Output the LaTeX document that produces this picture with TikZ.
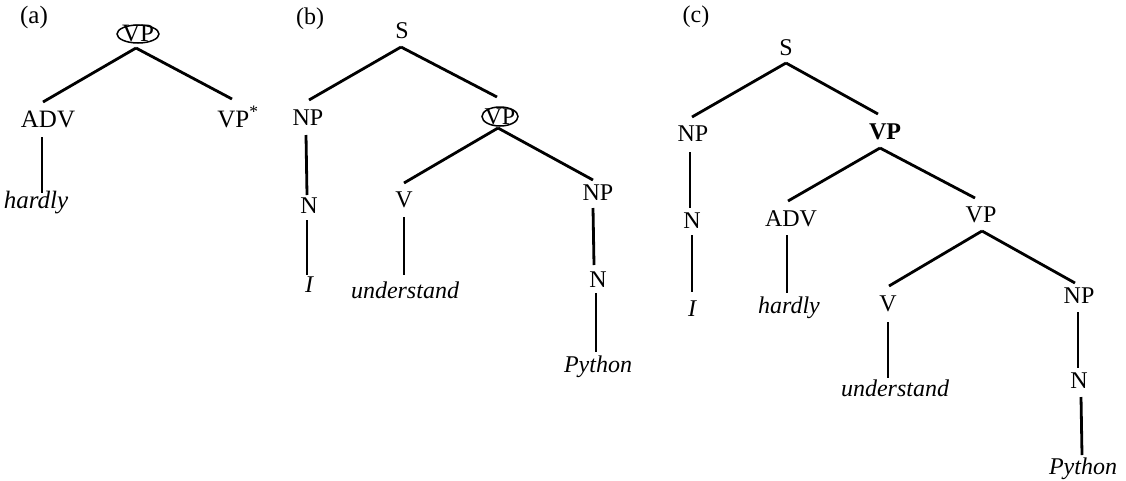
\documentclass[tikz,border=0pt]{standalone}
\usepackage{fontspec}
\setmainfont{Liberation Serif}
\usetikzlibrary{calc,shapes.geometric}
\newcommand\tlink[4]{\draw[edge] ($(#1)+(#2)$) -- ($(#3)+(#4)$);}
\begin{document}
\begin{tikzpicture}[x=1pt,y=-1pt,
  tx/.style={anchor=base,inner sep=0pt,font=\fontsize{24}{24}\selectfont},
  txa/.style={anchor=base,inner sep=0pt,font=\fontsize{25}{25}\selectfont},
  wd/.style={anchor=base,inner sep=0pt,font=\fontsize{24}{24}\selectfont\itshape},
  wda/.style={anchor=base,inner sep=0pt,font=\fontsize{25}{25}\selectfont\itshape},
  circ/.style={draw,ellipse,line width=1.5pt,inner sep=0pt},
  edge/.style={line width=2.8pt}]
\fill[white] (0,0) rectangle (1126,480);
\useasboundingbox (0,0) rectangle (1126,480);
% ---------- (a)
\node[txa] (la) at (34,23) {(a)};
\node[circ,minimum width=42pt,minimum height=18pt] (aVPe) at (138,34) {};
\node[txa] (aVP) at (138,41) {VP};
\node[txa] (aADV) at (48,127) {ADV};
\node[txa] (aVPs) at (238,127) {VP\textsuperscript{*}};
\node[wda] (ahardly) at (36,208) {hardly};
\tlink{aVPe.center}{-2,14}{aADV.base}{-5,-25}
\tlink{aVPe.center}{-2,14}{aVPs.base}{-6,-28}
\tlink{aADV.base}{-6,10}{ahardly.base}{6,-15}
% ---------- (b)
\node[tx] (lb) at (310,24) {(b)};
\node[tx] (bS) at (402,38) {S};
\node[tx] (bNP) at (308,125) {NP};
\node[circ,minimum width=36pt,minimum height=19pt] (bVPe) at (500,116.5) {};
\node[tx] (bVP) at (500,124) {VP};
\node[tx] (bV) at (404,207) {V};
\node[tx] (bNP2) at (598,200) {NP};
\node[tx] (bN) at (309,213) {N};
\node[wd] (bI) at (309,292) {I};
\node[wd] (bund) at (405,298) {understand};
\node[tx] (bN2) at (598,287) {N};
\node[wd] (bPy) at (598,372) {Python};
\tlink{bS.base}{-1,9}{bNP.base}{1,-25}
\tlink{bS.base}{-1,9}{bVPe.center}{-3,-19.5}
\tlink{bVPe.center}{-2,11.5}{bV.base}{0,-24}
\tlink{bVPe.center}{-2,11.5}{bNP2.base}{-5,-20}
\tlink{bNP.base}{-2,10}{bN.base}{-2,-18}
\tlink{bN.base}{-2,7}{bI.base}{-2,-17}
\tlink{bV.base}{0,10}{bund.base}{-1,-23}
\tlink{bNP2.base}{-5,8}{bN2.base}{-4,-22}
\tlink{bN2.base}{-2,6}{bPy.base}{-2,-20}
% ---------- (c)
\node[tx] (lc) at (696,22) {(c)};
\node[tx] (cS) at (786,55) {S};
\node[tx] (cNP) at (693,141) {NP};
\node[tx,font=\fontsize{24}{24}\selectfont\bfseries] (cVP) at (885,139) {VP};
\node[tx] (cADV) at (791,226) {ADV};
\node[tx] (cVP2) at (981,222) {VP};
\node[tx] (cN) at (692,228) {N};
\node[wd] (cI) at (692,316) {I};
\node[wd] (chardly) at (789,313) {hardly};
\node[tx] (cV) at (888,311) {V};
\node[tx] (cNP2) at (1079,303) {NP};
\node[wd] (cund) at (895,396) {understand};
\node[tx] (cN2) at (1079,388) {N};
\node[wd] (cPy) at (1083,474) {Python};
\tlink{cS.base}{0,8}{cNP.base}{-1,-24}
\tlink{cS.base}{0,8}{cVP.base}{-7,-25}
\tlink{cVP.base}{-5,9}{cADV.base}{-3,-25}
\tlink{cVP.base}{-5,9}{cVP2.base}{-6,-24}
\tlink{cVP2.base}{1,9}{cV.base}{1,-25}
\tlink{cVP2.base}{1,9}{cNP2.base}{-4,-20}
\tlink{cNP.base}{-3,11}{cN.base}{-2,-20}
\tlink{cN.base}{0,7}{cI.base}{0,-24}
\tlink{cADV.base}{-4,9}{chardly.base}{-2,-20}
\tlink{cV.base}{0,11}{cund.base}{-7,-18}
\tlink{cNP2.base}{-1,9}{cN2.base}{-1,-20}
\tlink{cN2.base}{2,9}{cPy.base}{-1,-19}
\end{tikzpicture}
\end{document}
